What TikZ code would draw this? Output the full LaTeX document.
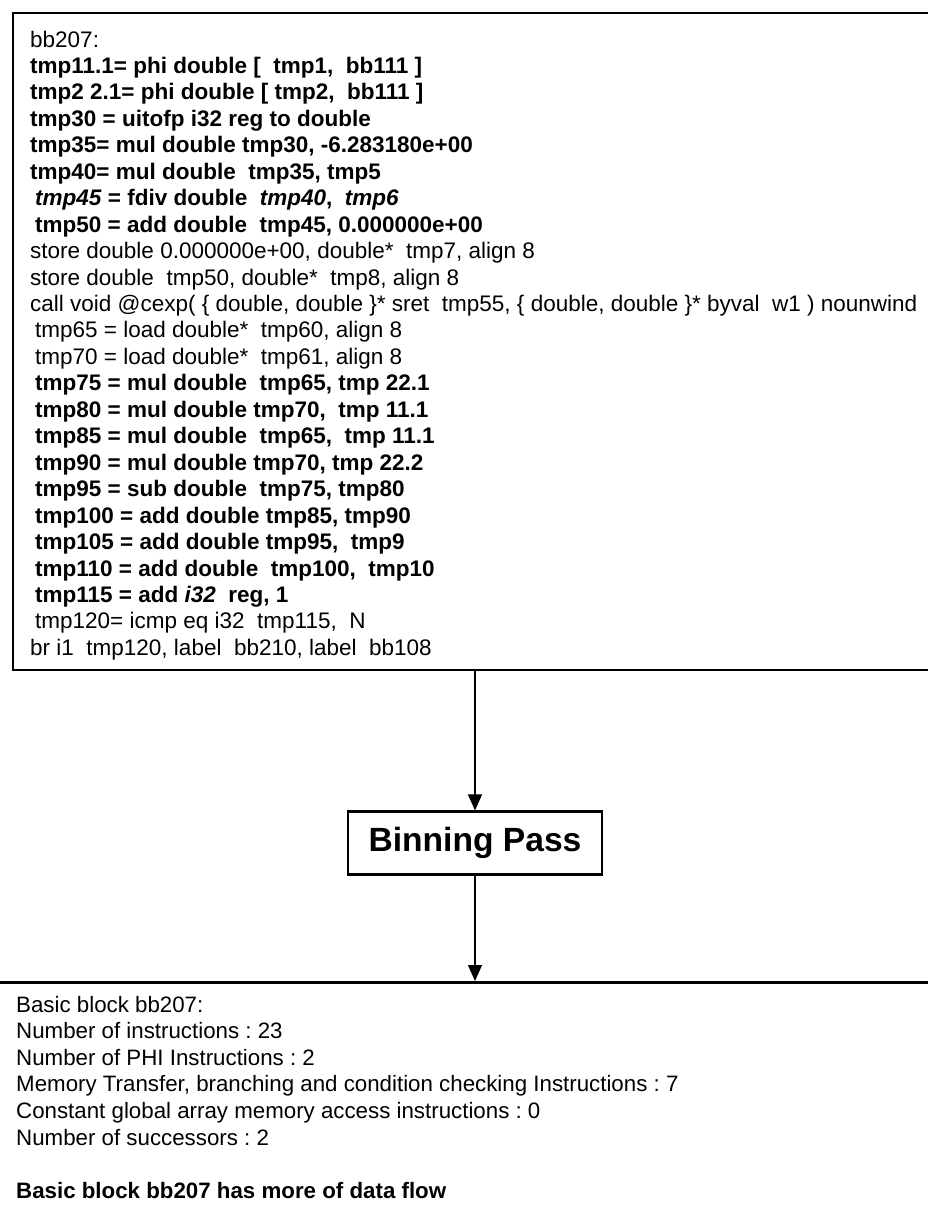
\documentclass[tikz,border=0pt]{standalone}
\usepackage{fontspec}
\setmainfont{Liberation Sans}
\usetikzlibrary{arrows.meta}
\begin{document}
\frenchspacing
\begin{tikzpicture}[x=1pt,y=-1pt,
  frame/.style={draw=black, line width=2pt, inner sep=0pt, anchor=north west},
  listing/.style={anchor=north west, align=left, inner sep=0pt,
    font=\frenchspacing\fontsize{22.5}{26.45}\selectfont},
  summary/.style={anchor=north west, align=left, inner sep=0pt,
    font=\frenchspacing\fontsize{22.3}{26.6}\selectfont},
  passbox/.style={draw=black, line width=2.2pt, minimum width=254pt, minimum height=63pt,
    inner sep=0pt, font=\bfseries\fontsize{33.6}{38}\selectfont},
  flow/.style={draw=black, line width=1.2pt, -{Triangle[length=16pt,width=14pt]}}
]
\useasboundingbox (0,0) rectangle (928,1208);

% input basic block (right side runs off the page)
\node[frame, minimum width=940pt, minimum height=657pt] (codebox) at (12,12) {};
\node[listing] (code) at (30,30.5) {%
bb207:\\
\textbf{tmp11.1= phi double [\ \ tmp1,\ \ bb111 ]}\\
\textbf{tmp2 2.1= phi double [ tmp2,\ \ bb111 ]}\\
\textbf{tmp30 = uitofp i32 reg to double}\\
\textbf{tmp35= mul double tmp30, -6.283180e+00}\\
\textbf{tmp40= mul double\ \ tmp35, tmp5}\\
\hspace*{5pt}\textbf{\textit{tmp45} = fdiv double\ \ \textit{tmp40},\ \ \textit{tmp6}}\\
\hspace*{5pt}\textbf{tmp50 = add double\ \ tmp45, 0.000000e+00}\\
store double 0.000000e+00, double*\ \ tmp7, align 8\\
store double\ \ tmp50, double*\ \ tmp8, align 8\\
call void @cexp( \{ double, double \}* sret\ \ tmp55, \{ double, double \}* byval\ \ w1 ) nounwind\\
\hspace*{5pt}tmp65 = load double*\ \ tmp60, align 8\\
\hspace*{5pt}tmp70 = load double*\ \ tmp61, align 8\\
\hspace*{5pt}\textbf{tmp75 = mul double\ \ tmp65, tmp 22.1}\\
\hspace*{5pt}\textbf{tmp80 = mul double tmp70,\ \ tmp 11.1}\\
\hspace*{5pt}\textbf{tmp85 = mul double\ \ tmp65,\ \ tmp 11.1}\\
\hspace*{5pt}\textbf{tmp90 = mul double tmp70, tmp 22.2}\\
\hspace*{5pt}\textbf{tmp95 = sub double\ \ tmp75, tmp80}\\
\hspace*{5pt}\textbf{tmp100 = add double tmp85, tmp90}\\
\hspace*{5pt}\textbf{tmp105 = add double tmp95,\ \ tmp9}\\
\hspace*{5pt}\textbf{tmp110 = add double\ \ tmp100,\ \ tmp10}\\
\hspace*{5pt}\textbf{tmp115 = add \textit{i32}\ \ reg, 1}\\
\hspace*{5pt}tmp120= icmp eq i32\ \ tmp115,\ \ N\\
br i1\ \ tmp120, label\ \ bb210, label\ \ bb108};

% the pass
\node[passbox] (pass) at (475,843) {Binning Pass};

% resulting block summary (open at the sides and bottom)
\node[frame, line width=2.6pt, minimum width=960pt, minimum height=300pt] (statsbox) at (-15,981) {};
\node[summary] (stats) at (16,995.8) {%
Basic block bb207:\\
Number of instructions : 23\\
Number of PHI Instructions : 2\\
Memory Transfer, branching and condition checking Instructions : 7\\
Constant global array memory access instructions : 0\\
Number of successors : 2\\[26.6pt]
\textbf{Basic block bb207 has more of data flow}};

\draw[flow] (codebox.south -| pass.north) -- (pass.north);
\draw[flow] (pass.south) -- (pass.south |- statsbox.north);
\end{tikzpicture}
\end{document}
